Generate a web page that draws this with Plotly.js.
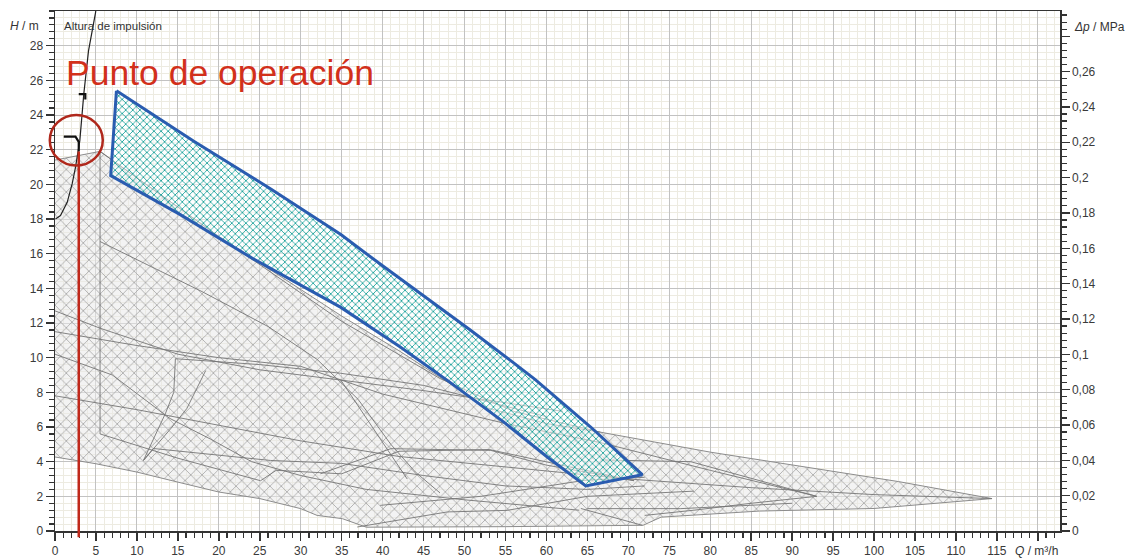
<!DOCTYPE html>
<html><head><meta charset="utf-8">
<script src="https://cdn.plot.ly/plotly-3.0.1.min.js"></script>
<style>html,body{margin:0;padding:0;background:#fff}#chart{width:1132px;height:560px}</style>
</head><body><div id="chart"></div>
<script>
// ---- axis ranges / ticks ----
const qRange = [0, 122.7];
const hRange = [0, 30];
const mpaPerM = 0.00981;
const xTickVals = [0,5,10,15,20,25,30,35,40,45,50,55,60,65,70,75,80,85,90,95,100,105,110,115,120];
const xTickText = ['0','5','10','15','20','25','30','35','40','45','50','55','60','65','70','75','80','85','90','95','100','105','110','115',''];
const yTickVals = [0,2,4,6,8,10,12,14,16,18,20,22,24,26,28];
const yTickText = ['0','2','4','6','8','10','12','14','16','18','20','22','24','26','28'];
const y2TickVals = [0,0.02,0.04,0.06,0.08,0.1,0.12,0.14,0.16,0.18,0.2,0.22,0.24,0.26,0.28];
const y2TickText = ['0','0,02','0,04','0,06','0,08','0,1','0,12','0,14','0,16','0,18','0,2','0,22','0,24','0,26',''];

// ---- gray hatched area (all pump curves) ----
const grayQ = [0, 5.5, 20, 35, 42, 52.8, 60, 66.6, 80, 90, 103, 114.4, 110.6, 100, 86, 78, 74, 71.8, 65, 55, 38, 35.1, 32, 30, 25, 20, 15, 10, 5, 0];
const grayH = [21.4, 21.9, 17.0, 12.4, 10.4, 7.1, 6.2, 5.7, 4.55, 3.8, 2.85, 1.87, 1.73, 1.3, 1.15, 0.9, 0.8, 0.33, 0.3, 0.25, 0.22, 0.71, 0.9, 1.29, 1.87, 2.25, 2.82, 3.4, 3.88, 4.27];

// ---- individual gray pump curve lines ----
const c1Q = [5.5, 20, 35, 47, 56, 66.6];            const c1H = [21.9, 17.0, 12.1, 8.8, 6.9, 5.7];
const c2Q = [5.5, 18, 26, 32, 37, 41, 44, 47];      const c2H = [16.7, 13.8, 11.8, 9.9, 7.6, 5.0, 3.4, 2.2];
const c3Q = [5.5, 5.5];                              const c3H = [21.9, 5.6];
const c4Q = [0, 5.5, 15, 25, 35, 45, 55, 62];       const c4H = [12.7, 11.7, 10.2, 9.3, 8.7, 8.1, 7.4, 6.9];
const c5Q = [0, 10, 20, 30, 40, 55, 66.6, 80, 93];  const c5H = [11.5, 10.7, 10.0, 9.5, 7.9, 6.2, 5.1, 3.5, 2.0];
const c6Q = [0, 7, 14, 19, 24, 30, 38, 50, 64];     const c6H = [10.2, 9.0, 6.5, 5.3, 4.0, 3.2, 2.4, 1.8, 1.2];
const c7Q = [0, 10, 20, 30, 42, 55, 70, 85, 100, 114.4]; const c7H = [7.8, 7.0, 6.1, 5.2, 4.3, 3.7, 3.0, 2.5, 2.1, 1.87];
const c8Q = [5.5, 15, 25.1, 27, 35, 42, 53, 70.7];  const c8H = [5.6, 4.2, 2.9, 3.5, 3.3, 4.6, 4.7, 2.9];
const c9Q = [18.4, 16.1, 14.3, 10.8, 12.0, 26.3, 35, 45, 55, 65, 72]; const c9H = [9.26, 7.07, 6.0, 4.07, 4.76, 4.07, 3.9, 3.2, 2.6, 2.4, 2.6];
const c10Q = [14.5, 14.7, 25, 34.9, 45, 55, 60];    const c10H = [8.0, 9.94, 9.6, 9.1, 8.4, 7.2, 6.6];
const c11Q = [34.9, 40.6, 43];                       const c11H = [8.7, 4.65, 3.0];
const c12Q = [32.4, 41, 53.2, 60, 70.7];             const c12H = [3.3, 4.75, 4.65, 3.8, 2.9];
const c13Q = [36.9, 47.9, 55.2, 65, 78];             const c13H = [0.23, 1.1, 1.19, 2.0, 2.3];
const c14Q = [66.6, 77.6, 93];                       const c14H = [4.1, 4.0, 2.0];
const c15Q = [39.7, 52, 64.6, 72];                   const c15H = [1.48, 2.0, 2.92, 3.1];
const c16Q = [93, 85, 78, 72];                       const c16H = [2.0, 1.6, 1.2, 0.9];
const c17Q = [64.2, 71.7];                           const c17H = [1.3, 0.33];
const c18Q = [65, 76.4, 90];                         const c18H = [1.29, 1.29, 1.6];
const c19Q = [13.5, 14.5];                           const c19H = [6.8, 8.0];
const c20Q = [13.5, 10.8];                           const c20H = [6.8, 4.07];

// ---- selected pump (teal) ----
const tealQ = [7.5, 16.9, 26.3, 34.9, 39.7, 50.7, 56.0, 58.6, 65.4, 71.7, 64.8, 60.1, 54.8, 47.9, 42.2, 39.7, 34.9, 24.2, 15.3, 6.8, 7.5];
const tealH = [25.4, 22.5, 19.75, 17.1, 15.4, 11.6, 9.7, 8.75, 6.0, 3.25, 2.6, 4.27, 6.28, 8.69, 10.6, 11.4, 12.9, 15.7, 18.25, 20.5, 25.4];

// ---- system curve & operating point ----
const sysQ = [0.06, 0.67, 1.49, 2.1, 2.5, 3.03, 3.52, 4.09, 4.95, 5.1];
const sysH = [18.0, 18.2, 18.96, 20.04, 20.98, 22.52, 25.23, 27.7, 29.9, 30.5];
const mark1Q = [1.07, 2.5, 2.9, 2.9]; const mark1H = [22.75, 22.75, 22.45, 21.9];
const mark2Q = [2.9, 3.7, 3.7];       const mark2H = [25.2, 25.2, 24.9];
const opQ = 2.9, opH = 21.9;
const circleQ = 2.6, circleH = 22.54;

const lineSets = [[c1Q,c1H],[c2Q,c2H],[c3Q,c3H],[c4Q,c4H],[c5Q,c5H],[c6Q,c6H],[c7Q,c7H],[c8Q,c8H],[c9Q,c9H],[c10Q,c10H],
  [c11Q,c11H],[c12Q,c12H],[c13Q,c13H],[c14Q,c14H],[c15Q,c15H],[c16Q,c16H],[c17Q,c17H],[c18Q,c18H],[c19Q,c19H],[c20Q,c20H]];

const traces = [];
traces.push({x: grayQ, y: grayH, type:'scatter', mode:'lines', fill:'toself',
  fillcolor:'rgba(225,225,225,0.5)',
  fillpattern:{shape:'x', fgcolor:'#a9a9a9', bgcolor:'rgba(232,232,232,0.55)', size:8, solidity:0.2},
  line:{color:'#8c8c8c', width:1}, hoverinfo:'skip'});
lineSets.forEach(s => traces.push({x:s[0], y:s[1], type:'scatter', mode:'lines',
  line:{color:'#767676', width:1}, opacity:0.9, hoverinfo:'skip'}));
traces.push({x: tealQ, y: tealH, type:'scatter', mode:'lines', fill:'toself',
  fillcolor:'rgba(255,255,255,0.4)',
  fillpattern:{shape:'x', fgcolor:'#139e98', bgcolor:'rgba(255,255,255,0.5)', size:5, solidity:0.3},
  line:{color:'#2a5cb0', width:3}, hoverinfo:'skip'});
traces.push({x: sysQ, y: sysH, type:'scatter', mode:'lines', line:{color:'#222', width:1.2}, hoverinfo:'skip'});
traces.push({x: mark1Q, y: mark1H, type:'scatter', mode:'lines', line:{color:'#111', width:2.2}, hoverinfo:'skip'});
traces.push({x: mark2Q, y: mark2H, type:'scatter', mode:'lines', line:{color:'#111', width:2.2}, hoverinfo:'skip'});
traces.push({x:[0], y:[0], yaxis:'y2', type:'scatter', mode:'none', hoverinfo:'skip'});

const tickFont = {family:'Liberation Sans, Arial, sans-serif', size:12, color:'#3a3a3a'};
const layout = {
  width:1132, height:560,
  margin:{l:55, r:72, t:11, b:29, pad:0},
  paper_bgcolor:'#fff', plot_bgcolor:'#fff',
  showlegend:false, hovermode:false,
  separators:', ',
  font:{family:'Liberation Sans, Arial, sans-serif', color:'#333'},
  xaxis:{range:qRange, tickmode:'array', tickvals:xTickVals, ticktext:xTickText,
    showgrid:true, gridcolor:'#c2c2c2', gridwidth:1, zeroline:false,
    showline:true, linecolor:'#333', linewidth:1.5, mirror:true,
    ticks:'outside', ticklen:8, tickcolor:'#333', tickwidth:1.5, tickfont:tickFont,
    minor:{dtick:1, tick0:0, showgrid:true, gridcolor:'#edebe1', gridwidth:1, ticks:'outside', ticklen:5, tickcolor:'#333', tickwidth:1.2}},
  yaxis:{range:hRange, tickmode:'array', tickvals:yTickVals, ticktext:yTickText,
    showgrid:true, gridcolor:'#c2c2c2', gridwidth:1, zeroline:false,
    showline:true, linecolor:'#333', linewidth:1.5,
    ticks:'outside', ticklen:8, tickcolor:'#333', tickwidth:1.5, tickfont:tickFont,
    minor:{dtick:0.4, tick0:0, showgrid:true, gridcolor:'#edebe1', gridwidth:1, ticks:'outside', ticklen:5, tickcolor:'#333', tickwidth:1.2}},
  yaxis2:{range:[hRange[0]*mpaPerM, hRange[1]*mpaPerM], overlaying:'y', side:'right',
    tickmode:'array', tickvals:y2TickVals, ticktext:y2TickText,
    showgrid:false, zeroline:false, showline:true, linecolor:'#333', linewidth:1.5,
    ticks:'outside', ticklen:8, tickcolor:'#333', tickwidth:1.5, tickfont:tickFont,
    minor:{dtick:0.004, tick0:0, showgrid:false, ticks:'outside', ticklen:5, tickcolor:'#333', tickwidth:1.2}},
  shapes:[
    {type:'line', xref:'x', yref:'paper', x0:opQ, x1:opQ, y0:-0.012, y1:opH/hRange[1],
     line:{color:'#c0281a', width:2.5}},
    {type:'circle', xref:'paper', yref:'paper', xsizemode:'pixel', ysizemode:'pixel',
     xanchor:(circleQ-qRange[0])/(qRange[1]-qRange[0]), yanchor:circleH/hRange[1],
     x0:-26.5, x1:26.5, y0:-25.3, y1:25.3, line:{color:'#b0281c', width:2.5}}
  ],
  annotations:[
    {xref:'paper', yref:'paper', x:0.007, y:0.971, xanchor:'left', yanchor:'middle', showarrow:false,
     text:'Altura de impulsión', font:{size:11.5, color:'#333'}},
    {xref:'paper', yref:'paper', x:-0.014, y:0.971, xanchor:'right', yanchor:'middle', showarrow:false,
     text:'<i>H</i> / m', font:{size:12, color:'#333'}},
    {xref:'paper', yref:'paper', x:1.012, y:0.969, xanchor:'left', yanchor:'middle', showarrow:false,
     text:'<i>Δp</i> / MPa', font:{size:12, color:'#333'}},
    {xref:'paper', yref:'paper', x:0.953, y:-0.038, xanchor:'left', yanchor:'middle', showarrow:false,
     text:'<i>Q</i> / m³/h', font:{size:12, color:'#333'}},
    {xref:'paper', yref:'paper', x:0.009, y:0.88, xanchor:'left', yanchor:'middle', showarrow:false,
     text:'Punto de operación', font:{size:35.5, color:'#d2301b', family:'Liberation Sans, Arial, sans-serif'}}
  ]
};
Plotly.newPlot('chart', traces, layout, {staticPlot:true, displayModeBar:false});
</script></body></html>
